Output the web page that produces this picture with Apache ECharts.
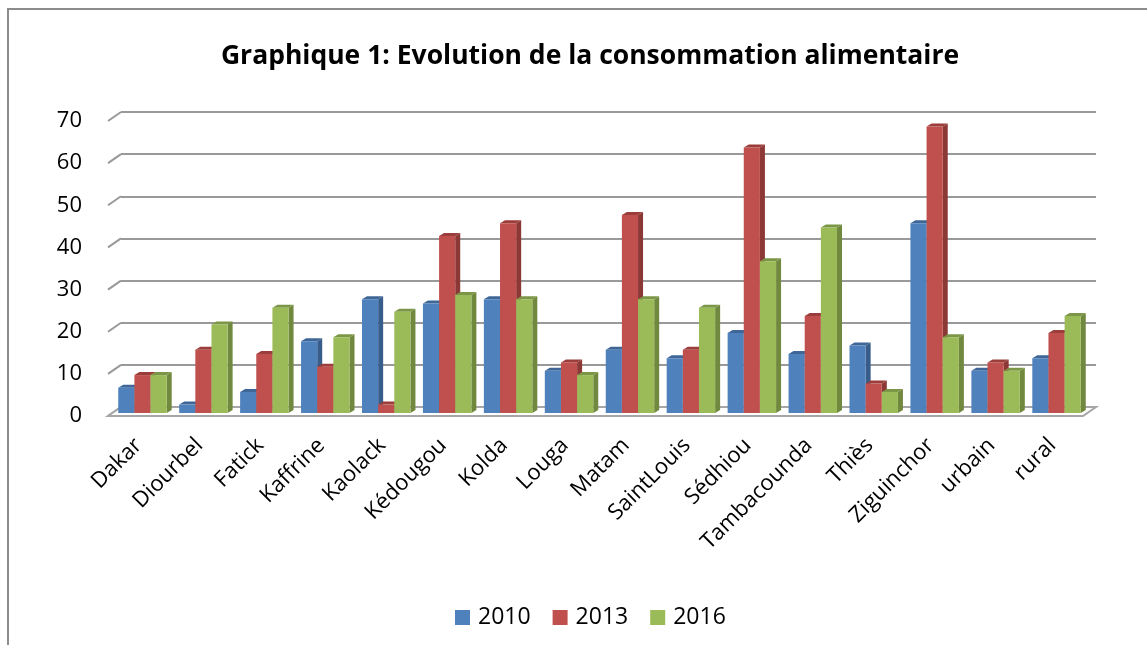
<!DOCTYPE html>
<html>
<head>
<meta charset="utf-8">
<script src="https://cdn.jsdelivr.net/npm/echarts@6/dist/echarts.min.js"></script>
<style>
  html, body { margin: 0; padding: 0; background: #fff; }
  #chart { width: 1147px; height: 645px; }
</style>
</head>
<body>
<div id="chart"></div>
<script>
// chart data
var regions = ["Dakar", "Diourbel", "Fatick", "Kaffrine", "Kaolack", "Kédougou", "Kolda", "Louga",
    "Matam", "SaintLouis", "Sédhiou", "Tambacounda", "Thiès", "Ziguinchor", "urbain", "rural"]
var years = ["2010", "2013", "2016"]
var v2010 = [6, 2, 5, 17, 27, 26, 27, 10, 15, 13, 19, 14, 16, 45, 10, 13]
var v2013 = [9, 15, 14, 11, 2, 42, 45, 12, 47, 15, 63, 23, 7, 68, 12, 19]
var v2016 = [9, 21, 25, 18, 24, 28, 27, 9, 27, 25, 36, 44, 5, 18, 10, 23]
var yTicks = [0, 10, 20, 30, 40, 50, 60, 70]

var font = "Open Sans"
var front = ["#4F81BD", "#C0504D", "#9BBB59"]
var side = ["#385D8A", "#8C3836", "#71893F"]
var topc = ["#3E6797", "#9B3D3A", "#7B9646"]

// depth of the floor (front edge -> back wall) and of one bar
var DX = 13, DY = -9
var BX = 5, BY = -3

function barRender(k) {
    return function (params, api) {
        var idx = api.value(0)
        var base = api.coord([idx, 0])
        var tp = api.coord([idx, api.value(1)])
        var band = api.size([1, 0])[0]
        var w = band * 0.265
        var x0 = base[0] - 1.5 * w + k * w + 4
        var x1 = x0 + w
        var yb = base[1] - 3
        var yt = tp[1] - 3
        return {
            type: "group",
            children: [
                { type: "polygon", shape: { points: [[x1, yb], [x1 + BX, yb + BY], [x1 + BX, yt + BY], [x1, yt]] },
                  style: { fill: side[k] } },
                { type: "polygon", shape: { points: [[x0, yt], [x1, yt], [x1 + BX, yt + BY], [x0 + BX, yt + BY]] },
                  style: { fill: topc[k] } },
                { type: "rect", shape: { x: x0, y: yt, width: w, height: yb - yt },
                  style: { fill: front[k] } }
            ]
        }
    }
}

// slanted left edges of the grid lines and the floor
function decorRender(params, api) {
    var cs = params.coordSys
    var p = api.coord([0, api.value(0)])
    var y = p[1]
    var left = cs.x
    var children = [
        { type: "line", shape: { x1: left, y1: y, x2: left + DX, y2: y + DY },
          style: { stroke: "#999", lineWidth: 2 } }
    ]
    if (api.value(0) === 0) {
        var right = cs.x + cs.width
        children.push({ type: "polygon",
            shape: { points: [[left, y], [right, y], [right + DX, y + DY], [left + DX, y + DY]] },
            style: { fill: "#fff", stroke: "#A6A6A6", lineWidth: 2 } })
    }
    return { type: "group", children: children }
}

function pairs(arr) {
    return arr.map(function (v, i) { return [i, v] })
}

var myChart = echarts.init(document.getElementById("chart"))
myChart.setOption({
    animation: false,
    backgroundColor: "#fff",
    title: {
        text: "Graphique 1: Evolution de la consommation alimentaire",
        left: 585,
        textAlign: "center",
        top: 38,
        textStyle: { fontFamily: font, fontSize: 26.5, fontWeight: "bold", color: "#000" }
    },
    graphic: [{
        type: "rect",
        shape: { x: 8, y: 9, width: 1200, height: 700 },
        style: { fill: null, stroke: "#8C8C8C", lineWidth: 2 },
        z: -10
    }],
    legend: {
        data: years,
        left: 450,
        top: 601,
        icon: "rect",
        itemWidth: 15,
        itemHeight: 15,
        itemGap: 22,
        textStyle: { fontFamily: font, fontSize: 23, color: "#000", padding: [0, 0, 0, 3] }
    },
    grid: [
        // front plane (labels, bars)
        { left: 108, right: 64, top: 121, bottom: 229 },
        // back wall (grid lines)
        { left: 108 + DX, right: 64 - DX, top: 121 + DY, bottom: 229 - DY }
    ],
    xAxis: [
        {
            gridIndex: 0, type: "category", data: regions,
            axisLine: { show: false }, axisTick: { show: false },
            axisLabel: { rotate: 45, margin: 26, interval: 0, fontFamily: font, fontSize: 22, color: "#000" }
        },
        { gridIndex: 1, type: "category", data: regions, show: false }
    ],
    yAxis: [
        {
            gridIndex: 0, type: "value", min: 0, max: 70, interval: 10,
            axisLine: { show: false }, axisTick: { show: false }, splitLine: { show: false },
            axisLabel: { margin: 26, padding: [6, 0, 0, 0], fontFamily: font, fontSize: 22, color: "#000" }
        },
        {
            gridIndex: 1, type: "value", min: 0, max: 70, interval: 10,
            axisLine: { show: false }, axisTick: { show: false }, axisLabel: { show: false },
            splitLine: { show: true, lineStyle: { color: "#999", width: 2 } }
        }
    ],
    series: [
        { type: "custom", name: "decor", xAxisIndex: 0, yAxisIndex: 0, z: 1, silent: true,
          data: yTicks.map(function (t) { return [t] }), encode: { y: 0 }, renderItem: decorRender },
        { type: "custom", name: years[0], color: front[0], z: 2, data: pairs(v2010),
          encode: { x: 0, y: 1 }, renderItem: barRender(0) },
        { type: "custom", name: years[1], color: front[1], z: 2, data: pairs(v2013),
          encode: { x: 0, y: 1 }, renderItem: barRender(1) },
        { type: "custom", name: years[2], color: front[2], z: 2, data: pairs(v2016),
          encode: { x: 0, y: 1 }, renderItem: barRender(2) }
    ]
})
</script>
</body>
</html>
